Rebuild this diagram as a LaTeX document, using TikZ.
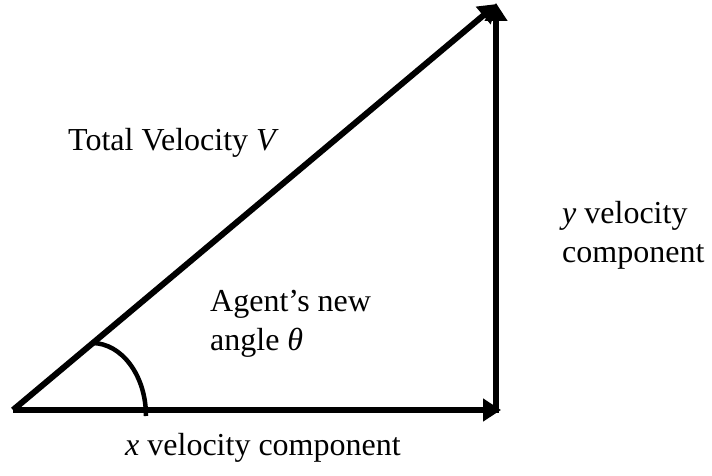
\documentclass[tikz,border=0pt]{standalone}
\usepackage{fontspec}
\setmainfont{Liberation Serif}
\usetikzlibrary{arrows.meta}
\begin{document}
\begin{tikzpicture}[x=1pt,y=-1pt,
  vec/.style={line width=6pt,-{Triangle[length=18pt,width=22pt]}},
  lbl/.style={anchor=base west,inner sep=0pt,font=\fontsize{32}{39}\selectfont,align=left}]
\useasboundingbox (0,0) rectangle (712,476);
\coordinate (O) at (13,410);
\coordinate (X) at (501,410);
\coordinate (B) at (496,413);
\coordinate (T) at (497,4);
\coordinate (Tv) at (496,3);
\coordinate (A1) at (146,416);
\coordinate (A2) at (92,343);
\draw[vec] (O) -- (X);
\draw[vec] (B) -- (Tv);
\draw[vec,line join=miter] (O) -- (T);
\draw[line width=4.5pt] (A1) arc[start angle=0,end angle=90,x radius=54,y radius=-73];
\node[lbl] (tv) at (68,150) {Total Velocity \textit{V}};
\node[lbl] (yv) at (562,262) {\textit{y} velocity\\component};
\node[lbl] (ag) at (210,350) {Agent’s new\\angle \textit{θ}};
\node[lbl] (xv) at (125,455) {\textit{x} velocity component};
\end{tikzpicture}
\end{document}
